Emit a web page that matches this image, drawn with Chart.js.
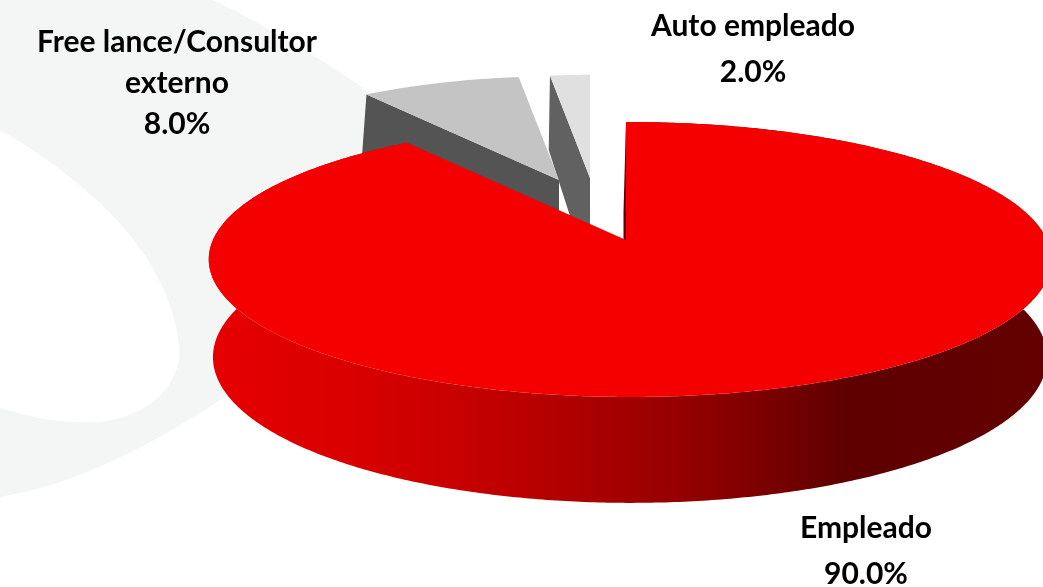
<!DOCTYPE html>
<html>
<head>
<meta charset="utf-8">
<title>Empleado</title>
<script src="https://cdn.jsdelivr.net/npm/chart.js@4"></script>
<style>
  html, body { margin: 0; background: #fff; overflow: hidden; }
  canvas { display: block; }
</style>
</head>
<body>
<canvas id="grafico" width="1043" height="587"></canvas>
<script>
const categories = ["Empleado", "Free lance/Consultor externo", "Auto empleado"];
const values = [90, 8, 2];
const topColors = ["#f40000", "#c4c4c4", "#e0e0e0"];
const wallColors = ["#5c0000", "#545454", "#616161"];

// camera of the top and bottom planes of the pie
const topPlane = { A: 417, B: 134.7, k: 0.1418, m: 0.0095 };
const bottomPlane = { A: 413.5, B: 143, k: 0.13, m: 0.012 };

// where each slice sits once pulled out of the pie
const sliceLayout = [
  { top: [626, 240], topScale: [1, 1], bottom: [625, 338.5], bottomScale: [1, 1] },
  { top: [559, 180], topScale: [0.88, 0.88], bottom: [559, 280], bottomScale: [0.91, 0.95] },
  { top: [590, 178], topScale: [0.875, 0.875], bottom: [590, 278], bottomScale: [0.9, 1.02] }
];

const labelLayout = [
  { x: 866, y: 538, lines: ["Empleado"] },
  { x: 177, y: 52, lines: ["Free lance/Consultor", "externo"], gap: 41 },
  { x: 753, y: 36, lines: ["Auto empleado"] }
];

function project(plane, origin, scale, angle) {
  // chart.js angles start at 3 o'clock, here 0 is the far point of the pie
  const t = angle + Math.PI / 2;
  const u = Math.sin(t);
  const v = -Math.cos(t);
  const w = 1 - plane.k * v - plane.m * u;
  return [origin[0] + scale[0] * plane.A * u / w, origin[1] + scale[1] * plane.B * v / w];
}

function rim(plane, origin, scale, start, end) {
  const pts = [];
  const steps = Math.max(2, Math.ceil(Math.abs(end - start) / 0.01));
  for (let i = 0; i <= steps; i++) {
    pts.push(project(plane, origin, scale, start + (end - start) * i / steps));
  }
  return pts;
}

function fillPoly(ctx, pts, color) {
  ctx.beginPath();
  pts.forEach((p, i) => i ? ctx.lineTo(p[0], p[1]) : ctx.moveTo(p[0], p[1]));
  ctx.closePath();
  ctx.fillStyle = color;
  ctx.fill();
}

function drawSlice(ctx, arc, i) {
  const s = sliceLayout[i];
  const a = arc.startAngle;
  const b = arc.endAngle;
  const topRim = rim(topPlane, s.top, s.topScale, a, b);
  const bottomRim = rim(bottomPlane, s.bottom, s.bottomScale, a, b);

  if (i === 0) {
    // flat wall at the start of the big slice, only a sliver shows
    fillPoly(ctx, [s.top, topRim[0], [623.5, 212], [623.5, 338]], wallColors[0]);
    // round outer wall
    const grad = ctx.createLinearGradient(207, 0, 1043, 0);
    grad.addColorStop(0, "#e60000");
    grad.addColorStop(0.17, "#d90000");
    grad.addColorStop(0.35, "#c00000");
    grad.addColorStop(0.59, "#900000");
    grad.addColorStop(0.77, "#5e0000");
    grad.addColorStop(1, "#640000");
    fillPoly(ctx, topRim.concat(bottomRim.slice().reverse()), grad);
  } else {
    // flat wall on the left of the small slices
    fillPoly(ctx, [s.top, topRim[0], bottomRim[0], s.bottom], wallColors[i]);
  }
  fillPoly(ctx, [s.top].concat(topRim), topColors[i]);
}

const pie3d = {
  id: "pie3d",
  beforeDraw(chart) {
    // light swoosh of the slide background
    const ctx = chart.ctx;
    ctx.save();
    ctx.fillStyle = "#f4f5f5";
    ctx.fill(new Path2D(
      "M0 0 L213 0 C265 25 315 55 357 84 C400 115 420 180 400 240 C360 320 310 340 253 377 " +
      "C180 430 90 482 0 497 Z " +
      "M0 130 C60 165 110 205 145 255 C170 295 183 335 178 365 C165 410 115 425 80 422 " +
      "C50 422 25 415 0 408 Z"
    ), "evenodd");
    ctx.restore();
  },
  beforeDatasetsDraw(chart) {
    const ctx = chart.ctx;
    const arcs = chart.getDatasetMeta(0).data;
    ctx.save();
    // back to front
    [2, 1, 0].forEach(i => drawSlice(ctx, arcs[i], i));

    ctx.fillStyle = "#000";
    ctx.textAlign = "center";
    ctx.textBaseline = "alphabetic";
    ctx.font = "700 30px Lato";
    labelLayout.forEach((l, i) => {
      const gap = l.gap || 46;
      const rows = l.lines.concat(values[i].toFixed(1) + "%");
      rows.forEach((row, r) => ctx.fillText(row, l.x, l.y - 6 + 6 + r * gap));
    });
    ctx.restore();
    return false; // slices are done, skip the flat drawing
  }
};

new Chart(document.querySelector("#grafico"), {
  type: "pie",
  data: {
    labels: categories,
    datasets: [{ data: values, backgroundColor: topColors, borderWidth: 0 }]
  },
  options: {
    responsive: false,
    animation: false,
    plugins: { legend: { display: false }, tooltip: { enabled: false } }
  },
  plugins: [pie3d]
});
</script>
</body>
</html>
